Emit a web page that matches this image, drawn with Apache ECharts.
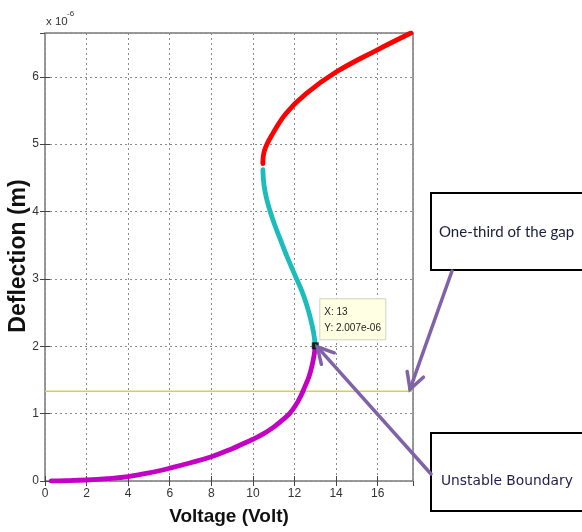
<!DOCTYPE html>
<html>
<head>
<meta charset="utf-8">
<script src="https://cdn.jsdelivr.net/npm/echarts@6/dist/echarts.min.js"></script>
<style>html,body{margin:0;padding:0;background:#fff;}#c{width:582px;height:532px;}</style>
</head>
<body>
<div id="c"></div>
<script>
// Deflection values in units of 1e-6 m, voltage in V
var stableLower = [[0.3,0],[1,0.004],[2,0.015],[3,0.035],[4,0.065],[5,0.12],[6,0.19],[7,0.27],[8,0.36],[9,0.48],[9.5,0.55],[10,0.62],[10.5,0.7],[11,0.8],[11.4,0.9],[11.76,1.0],[12.05,1.12],[12.3,1.26],[12.5,1.4],[12.7,1.55],[12.85,1.72],[12.95,1.88],[13,2.007]];
var unstableMid = [[13,2.007],[12.92,2.2],[12.78,2.4],[12.6,2.6],[12.38,2.8],[12.1,3.0],[11.82,3.2],[11.55,3.4],[11.3,3.6],[11.05,3.8],[10.83,4.0],[10.65,4.2],[10.53,4.4],[10.48,4.62]];
var stableUpper = [[10.48,4.71],[10.56,4.91],[10.96,5.16],[11.6,5.46],[12.56,5.75],[14.0,6.07],[15.92,6.39],[17.6,6.65]];
var gapLine = [[0,1.333],[17.7,1.333]];
var dataTip = [13, 2.007];
var xRange = [0, 17.7];
var yRange = [0, 6.65];
var yScaleExp = -6;
var boxLabels = ['One-third of the gap', 'Unstable Boundary'];
var axisTitles = {x: 'Voltage (Volt)', y: 'Deflection (m)'};

var chart = echarts.init(document.getElementById('c'), null, {renderer: 'canvas'});
var labelStyle = {color: '#333', fontFamily: 'Liberation Sans, Arial', fontSize: 12};
var tickStyle = {show: true, inside: true, length: 5, lineStyle: {color: '#444', width: 1}};
var splitStyle = {show: true, lineStyle: {color: '#8a8a8a', type: [2, 3], width: 1}};

chart.setOption({
  animation: false,
  backgroundColor: '#fff',
  grid: {left: 45, top: 33, right: 169, bottom: 51, show: true, borderColor: '#7a7a7a', borderWidth: 1.5, containLabel: false, outerBoundsMode: 'none'},
  xAxis: [{
    type: 'value', min: xRange[0], max: xRange[1], interval: 2,
    axisLine: {show: false}, axisTick: tickStyle, splitLine: splitStyle,
    axisLabel: Object.assign({margin: 7, showMaxLabel: false}, labelStyle),
    name: axisTitles.x, nameLocation: 'middle', nameGap: 26,
    nameTextStyle: {fontFamily: 'Liberation Sans, Arial', fontWeight: 'bold', fontSize: 19, color: '#111'}
  }, {
    type: 'value', position: 'top', min: xRange[0], max: xRange[1], interval: 2,
    axisLine: {show: false}, axisTick: tickStyle, splitLine: {show: false}, axisLabel: {show: false}
  }],
  yAxis: [{
    type: 'value', min: yRange[0], max: yRange[1], interval: 1,
    axisLine: {show: false}, axisTick: tickStyle, splitLine: splitStyle,
    axisLabel: Object.assign({margin: 6, showMaxLabel: false}, labelStyle)
  }, {
    type: 'value', position: 'right', min: yRange[0], max: yRange[1], interval: 1,
    axisLine: {show: false}, axisTick: tickStyle, splitLine: {show: false}, axisLabel: {show: false}
  }],
  series: [
    {type: 'line', data: gapLine, showSymbol: false, lineStyle: {color: '#d4d24c', width: 1.5}, z: 2},
    {type: 'line', data: stableLower, smooth: 0.4, showSymbol: false, lineStyle: {color: '#c400c4', width: 4.8, cap: 'round'}, z: 3},
    {type: 'line', data: unstableMid, smooth: 0.4, showSymbol: false, lineStyle: {color: '#1cbcbc', width: 4.8, cap: 'round'}, z: 3},
    {type: 'line', data: stableUpper, smooth: 0.4, showSymbol: false, lineStyle: {color: '#ff0000', width: 4.8, cap: 'round'}, z: 3},
    {type: 'scatter', data: [dataTip], symbol: 'rect', symbolSize: 7, itemStyle: {color: '#000'}, z: 5}
  ]
});

function fmtExp(v) {
  var s = v.toExponential(3);
  return s.replace(/e([+-])(\d)$/, 'e$10$2');
}

var tip = chart.convertToPixel({xAxisIndex: 0, yAxisIndex: 0}, dataTip);
var gapEnd = chart.convertToPixel({xAxisIndex: 0, yAxisIndex: 0}, gapLine[1]);
var purple = '#7f63a6';

function arrow(x1, y1, x2, y2, len) {
  var a = Math.atan2(y2 - y1, x2 - x1);
  var s = 0.5;
  var p1 = [x2 - len * Math.cos(a - s), y2 - len * Math.sin(a - s)];
  var p2 = [x2 - len * Math.cos(a + s), y2 - len * Math.sin(a + s)];
  return [
    {type: 'line', shape: {x1: x1, y1: y1, x2: x2, y2: y2}, style: {stroke: purple, lineWidth: 3.5, lineCap: 'round'}, z: 20},
    {type: 'polyline', shape: {points: [p1, [x2, y2], p2]}, style: {stroke: purple, lineWidth: 3.5, fill: null, lineCap: 'round', lineJoin: 'miter'}, z: 20}
  ];
}

var g = [];
// y axis title
g.push({type: 'text', x: 19, y: 256, rotation: Math.PI / 2, style: {text: axisTitles.y, font: 'bold 23px "Liberation Sans", Arial', fill: '#111', align: 'center', verticalAlign: 'middle'}});
// exponent label
g.push({type: 'text', left: 46, top: 16, style: {text: 'x 10', font: '11.5px "Liberation Sans", Arial', fill: '#333'}});
g.push({type: 'text', left: 67, top: 10, style: {text: String(yScaleExp), font: '8px "Liberation Sans", Arial', fill: '#333'}});
// data tip
g.push({type: 'rect', shape: {x: tip[0] + 4.5, y: tip[1] - 47, width: 66, height: 41}, style: {fill: '#ffffe3', stroke: '#d2d2c0', lineWidth: 1}, z: 10});
g.push({type: 'text', x: tip[0] + 9, y: tip[1] - 42, style: {text: 'X: ' + dataTip[0] + '\nY: ' + fmtExp(dataTip[1] * Math.pow(10, yScaleExp)), font: '10px "Liberation Sans", Arial', fill: '#222', lineHeight: 16}, z: 11});
// annotation boxes
g.push({type: 'rect', shape: {x: 431, y: 193, width: 160, height: 77}, style: {fill: '#fff', stroke: '#000', lineWidth: 2}, z: 12});
g.push({type: 'text', x: 439, y: 232, style: {text: boxLabels[0], font: '15px Lato', fill: '#1c1c3c', verticalAlign: 'middle'}, z: 13});
g.push({type: 'rect', shape: {x: 431, y: 433, width: 160, height: 78}, style: {fill: '#fff', stroke: '#000', lineWidth: 2}, z: 12});
g.push({type: 'text', x: 441, y: 481, style: {text: boxLabels[1], font: '13.8px "DejaVu Sans"', fill: '#241a4a', verticalAlign: 'middle'}, z: 13});
// arrows
g = g.concat(arrow(452, 271, gapEnd[0] - 3, gapEnd[1] - 2, 18));
g = g.concat(arrow(431, 474, tip[0] + 2, tip[1] + 1, 18));
chart.setOption({graphic: g});
</script>
</body>
</html>
